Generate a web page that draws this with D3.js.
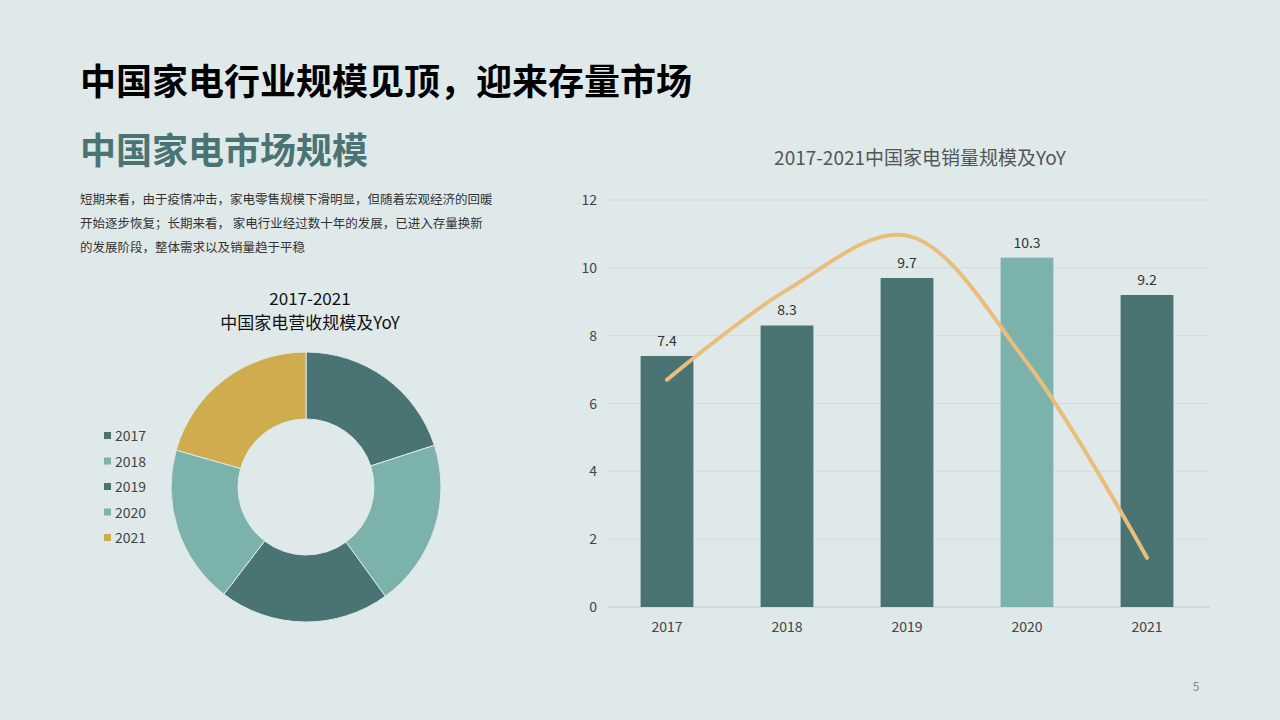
<!DOCTYPE html>
<html><head><meta charset="utf-8">
<script src="https://cdn.jsdelivr.net/npm/d3@7"></script>
<style>
body{margin:0;background:#e0e9e9;font-family:"Noto Sans CJK SC","Noto Sans",sans-serif}
</style></head>
<body><svg id="c" width="1280" height="720"></svg>
<script>
const years = ['2017', '2018', '2019', '2020', '2021']
const salesVolume = [7.4, 8.3, 9.7, 10.3, 9.2]
const salesYoY = [6.7, 9.35, 10.95, 7.2, 1.45]
const revenueShare = [20.0, 20.0, 20.4, 19.0, 20.6]
const yTicks = [0, 2, 4, 6, 8, 10, 12]

const dark = '#4a7473', light = '#7bb2ac', gold = '#cfac4e'
const barColors = [dark, dark, dark, light, dark]
const pieColors = [dark, light, dark, light, gold]

const svg = d3.select('#c')
svg.append('rect').attr('width', 1280).attr('height', 720).attr('fill', '#e0e9e9')

// 标题
svg.append('text').attr('x', 80).attr('y', 95).attr('font-size', 36).attr('font-weight', 700)
  .attr('fill', '#000').text('中国家电行业规模见顶，迎来存量市场')
svg.append('text').attr('x', 80).attr('y', 164).attr('font-size', 36).attr('font-weight', 700)
  .attr('fill', '#4a7473').text('中国家电市场规模')
let para = ['短期来看，由于疫情冲击，家电零售规模下滑明显，但随着宏观经济的回暖',
  '开始逐步恢复；长期来看，  家电行业经过数十年的发展，已进入存量换新',
  '的发展阶段，整体需求以及销量趋于平稳']
para.forEach((t, i) => {
  svg.append('text').attr('x', 80).attr('y', 204 + i * 24).attr('font-size', 12.5)
    .attr('fill', '#333').text(t)
})
svg.append('text').attr('x', 1196).attr('y', 691).attr('font-size', 12).attr('fill', '#888')
  .attr('text-anchor', 'middle').text('5')

// 环形图
let pg = svg.append('g').attr('transform', 'translate(306,487)')
let pie = d3.pie().sort(null)(revenueShare)
let arc = d3.arc().innerRadius(68).outerRadius(135)
pg.selectAll('path').data(pie).join('path').attr('d', arc)
  .attr('fill', (d, i) => pieColors[i]).attr('stroke', '#e0e9e9').attr('stroke-width', 1)
svg.append('text').attr('x', 310).attr('y', 305).attr('text-anchor', 'middle')
  .attr('font-size', 17).attr('fill', '#111').text('2017-2021')
svg.append('text').attr('x', 310).attr('y', 329).attr('text-anchor', 'middle')
  .attr('font-size', 17).attr('fill', '#111').text('中国家电营收规模及YoY')
years.forEach((y, i) => {
  let gy = 436 + i * 25.5
  svg.append('rect').attr('x', 104).attr('y', gy - 4).attr('width', 7).attr('height', 7).attr('fill', pieColors[i])
  svg.append('text').attr('x', 115).attr('y', gy + 5).attr('font-size', 14).attr('fill', '#444').text(y)
})

// 柱状图
let x = d3.scaleBand().domain(years).range([607, 1207]).paddingInner(0.56).paddingOuter(0.28)
let y = d3.scaleLinear().domain([0, 12]).range([607, 200])
svg.append('text').attr('x', 920).attr('y', 165).attr('text-anchor', 'middle')
  .attr('font-size', 19).attr('fill', '#555').text('2017-2021中国家电销量规模及YoY')
yTicks.forEach(t => {
  svg.append('line').attr('x1', 607).attr('x2', 1210).attr('y1', y(t)).attr('y2', y(t))
    .attr('stroke', t === 0 ? '#c4cccc' : '#d2dbdb').attr('stroke-width', 1)
  svg.append('text').attr('x', 597).attr('y', y(t) + 5).attr('text-anchor', 'end')
    .attr('font-size', 14).attr('fill', '#444').text(t)
})
svg.selectAll('.bar').data(salesVolume).join('rect')
  .attr('x', (d, i) => x(years[i])).attr('width', x.bandwidth())
  .attr('y', d => y(d)).attr('height', d => y(0) - y(d)).attr('fill', (d, i) => barColors[i])
svg.selectAll('.lbl').data(salesVolume).join('text')
  .attr('x', (d, i) => x(years[i]) + x.bandwidth() / 2).attr('y', d => y(d) - 10)
  .attr('text-anchor', 'middle').attr('font-size', 14).attr('fill', '#333').text(d => d)
years.forEach(yr => {
  svg.append('text').attr('x', x(yr) + x.bandwidth() / 2).attr('y', 632).attr('text-anchor', 'middle')
    .attr('font-size', 14).attr('fill', '#444').text(yr)
})
let line = d3.line().x((d, i) => x(years[i]) + x.bandwidth() / 2).y(d => y(d)).curve(d3.curveCatmullRom.alpha(0.5))
svg.append('path').attr('d', line(salesYoY)).attr('fill', 'none')
  .attr('stroke', '#ebbd7c').attr('stroke-width', 4).attr('stroke-linecap', 'round')
</script></body></html>
